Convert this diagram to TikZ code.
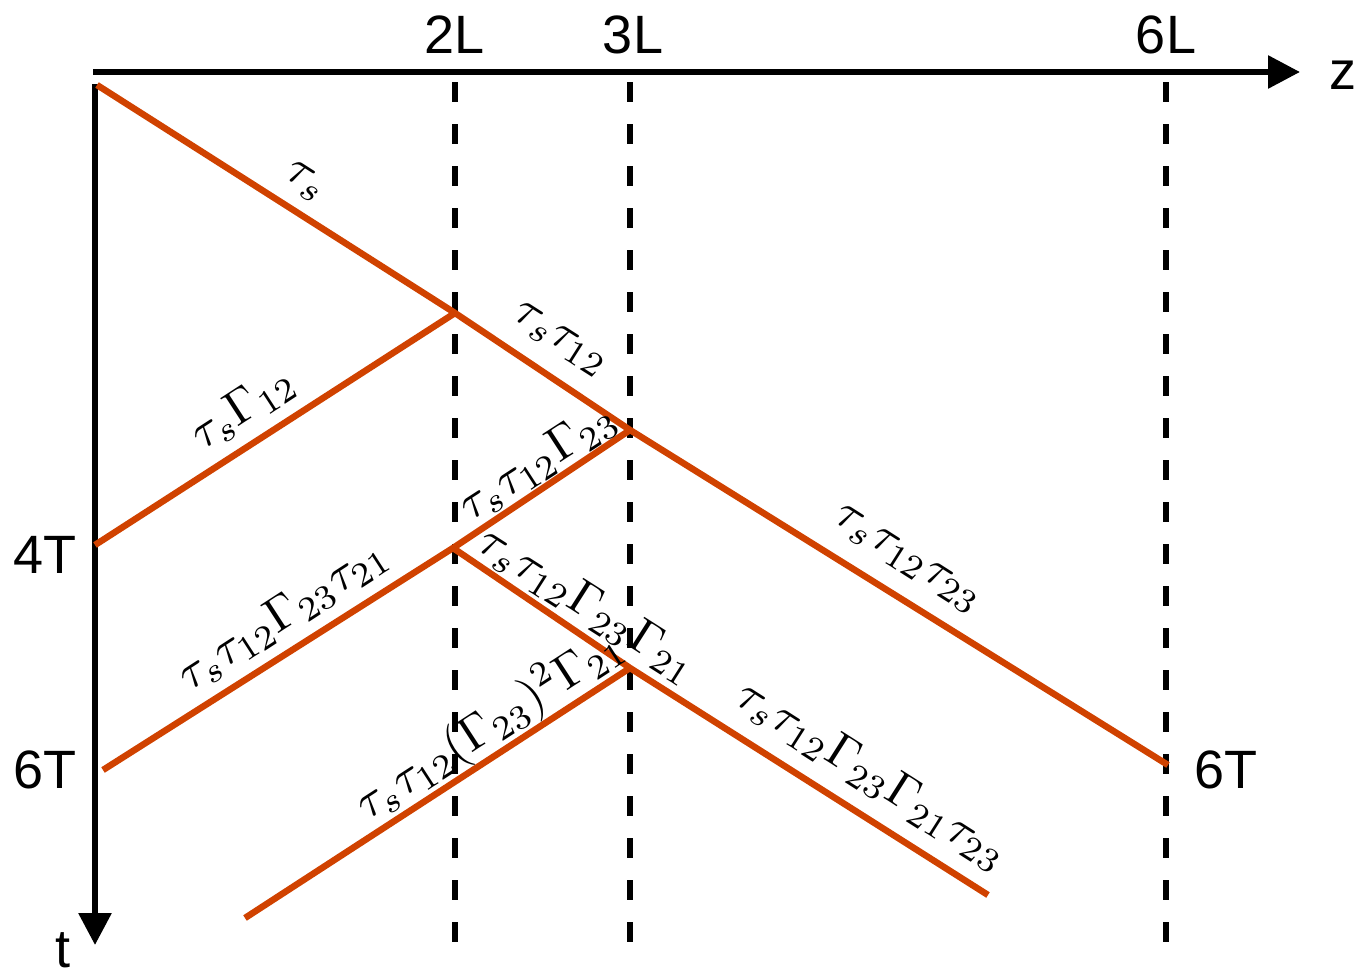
\documentclass[tikz,border=0pt]{standalone}
\usepackage{fontspec}
\newfontfamily\hv{Liberation Sans}
\usetikzlibrary{arrows.meta}
\definecolor{wave}{RGB}{208,66,0}
\begin{document}
\begin{tikzpicture}[x=1pt,y=-1pt,
  ray/.style={draw=wave,line width=6.5pt},
  axis/.style={line width=6pt},
  guide/.style={line width=5.5pt,dash pattern=on 20pt off 22pt},
  lab/.style={font=\hv\fontsize{54}{60}\selectfont,inner sep=0pt},
  dn/.style={scale=4.9,inner sep=0pt,rotate=-32.5},
  up/.style={scale=4.9,inner sep=0pt,rotate=33}]
\useasboundingbox (0,0) rectangle (1362,974);
% axes
\coordinate (z0) at (93,72);
\coordinate (z1) at (1300,72);
\coordinate (t0) at (95,84);
\coordinate (t1) at (95,945);
\draw[axis,-{Triangle[length=32pt,width=32pt]}] (z0) -- (z1);
\draw[axis,-{Triangle[length=32pt,width=32pt]}] (t0) -- (t1);
\node[lab] (zl) at (1343,75) {z};
\node[lab] (tl) at (63,950) {t};
% guides
\coordinate (g2a) at (455,82); \coordinate (g2b) at (455,945);
\coordinate (g3a) at (630,82); \coordinate (g3b) at (630,945);
\coordinate (g6a) at (1166,82); \coordinate (g6b) at (1166,945);
\draw[guide] (g2a) -- (g2b);
\draw[guide] (g3a) -- (g3b);
\draw[guide] (g6a) -- (g6b);
\node[lab] (l2) at (455,35) {2L};
\node[lab] (l3) at (633,35) {3L};
\node[lab] (l6) at (1166,35) {6L};
\node[lab] (t4) at (45,555) {4T};
\node[lab] (t6) at (45,770) {6T};
\node[lab] (t6r) at (1226,770) {6T};
% rays
\coordinate (O) at (97,85);
\coordinate (A) at (455,313);
\coordinate (B) at (630,430);
\coordinate (C) at (1168,765);
\coordinate (D) at (95,545);
\coordinate (E) at (453,548);
\coordinate (F) at (103,770);
\coordinate (G) at (630,668);
\coordinate (H) at (988,895);
\coordinate (I) at (245,918);
\draw[ray] (O) -- (A) -- (B) -- (C);
\draw[ray] (A) -- (D);
\draw[ray] (B) -- (E) -- (F);
\draw[ray] (E) -- (G) -- (H);
\draw[ray] (G) -- (I);
% labels
\node[dn] (m1) at (305,182) {$\tau_s$};
\node[dn] (m2) at (560,340) {$\tau_s\tau_{12}$};
\node[up] (m3) at (243,408) {$\tau_s\Gamma_{12}$};
\node[up] (m4) at (538,462) {$\tau_s\tau_{12}\Gamma_{23}$};
\node[up] (m5) at (283,615) {$\tau_s\tau_{12}\Gamma_{23}\tau_{21}$};
\node[dn] (m6) at (588,605) {$\tau_s\tau_{12}\Gamma_{23}\Gamma_{21}$};
\node[dn] (m7) at (907,560) {$\tau_s\tau_{12}\tau_{23}$};
\node[up] (m8) at (490,725) {$\tau_s\tau_{12}(\Gamma_{23})^2\Gamma_{21}$};
\node[dn] (m9) at (872,775) {$\tau_s\tau_{12}\Gamma_{23}\Gamma_{21}\tau_{23}$};
\end{tikzpicture}
\end{document}
